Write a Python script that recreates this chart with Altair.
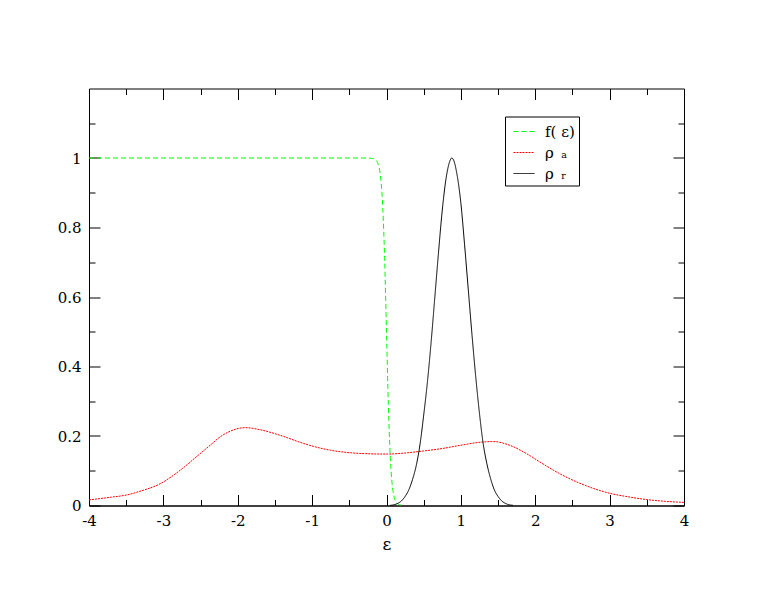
import altair as alt
import pandas as pd

# f(eps) – Fermi function (green, dashed)
f_x = [-4, -3, -2, -1, -0.5, -0.3, -0.2, -0.15, -0.1, -0.075, -0.05, -0.025, 0,
       0.025, 0.05, 0.075, 0.1, 0.125, 0.15, 0.2]
f_y = [1, 1, 1, 1, 1, 0.9999, 0.999, 0.995, 0.973, 0.936, 0.857, 0.71, 0.5,
       0.29, 0.143, 0.064, 0.027, 0.011, 0.005, 0.001]

# rho_a (red, dotted)
ra_x = [-4, -3.7, -3.5, -3.314, -3.045, -2.777, -2.508, -2.373, -2.24, -2.10, -1.90,
        -1.70, -1.43, -1.163, -1.03, -0.75, -0.5, -0.25, 0, 0.25, 0.5, 0.719, 0.988,
        1.257, 1.436, 1.66, 1.885, 2.064, 2.333, 2.60, 2.87, 3.005, 3.25, 3.5, 3.75, 4.0]
ra_y = [0.016, 0.024, 0.030, 0.041, 0.0625, 0.101, 0.149, 0.173, 0.197, 0.214, 0.224,
        0.218, 0.202, 0.182, 0.173, 0.159, 0.152, 0.149, 0.148, 0.151, 0.157, 0.163,
        0.173, 0.182, 0.184, 0.173, 0.149, 0.125, 0.091, 0.064, 0.043, 0.035, 0.025,
        0.017, 0.012, 0.009]

# rho_r (black, solid)
rr_x = [0.05, 0.1, 0.15, 0.2, 0.25, 0.3, 0.35, 0.4, 0.45, 0.5, 0.55, 0.6, 0.65, 0.7,
        0.75, 0.8, 0.85, 0.877, 0.9, 0.95, 1.0, 1.05, 1.1, 1.15, 1.2, 1.25, 1.3,
        1.35, 1.4, 1.45, 1.5, 1.55, 1.6, 1.65, 1.7]
rr_y = [0.0005, 0.002, 0.006, 0.013, 0.026, 0.045, 0.075, 0.115, 0.175, 0.26, 0.355,
        0.47, 0.60, 0.73, 0.85, 0.94, 0.99, 1.0, 0.995, 0.95, 0.87, 0.75, 0.62, 0.49,
        0.37, 0.265, 0.178, 0.12, 0.077, 0.045, 0.026, 0.013, 0.006, 0.002, 0.0006]

names = ["f( ε)", "\u2002ρ\u2002ₐ", "\u2002ρ\u2002ᵣ"]
colors = ["#00ff00", "#ff0000", "#000000"]
dashes = [[5, 3], [2, 1], [1, 0]]

x_ticks = [-4, -3.5, -3, -2.5, -2, -1.5, -1, -0.5, 0, 0.5, 1, 1.5, 2, 2.5, 3, 3.5, 4]
y_ticks = [0, 0.1, 0.2, 0.3, 0.4, 0.5, 0.6, 0.7, 0.8, 0.9, 1.0, 1.1]

rows = []
for n, xs, ys in [(names[0], f_x, f_y), (names[1], ra_x, ra_y), (names[2], rr_x, rr_y)]:
    for a, b in zip(xs, ys):
        rows.append({"e": a, "v": b, "s": n})
df = pd.DataFrame(rows)

W, H = 595, 417
FONT = "DejaVu Serif"

legend = alt.Legend(
    orient="none", legendX=416, legendY=28, title=None,
    strokeColor="black", fillColor="white", padding=4,
    symbolType="stroke", symbolSize=441, symbolStrokeWidth=1, symbolOffset=4,
    labelFont=FONT, labelFontSize=15, labelColor="black",
    rowPadding=2, labelOffset=10, cornerRadius=0,
)

x_axis = alt.Axis(
    values=x_ticks, title="ε", titleFont=FONT, titleFontSize=17,
    titleFontWeight="normal", titleColor="black", titlePadding=8,
    labelFont=FONT, labelFontSize=15, labelColor="black", labelPadding=8,
    labelExpr="datum.value % 1 == 0 ? '' + datum.value : ''",
    labelFlush=False, labelOverlap=False,
    ticks=False, tickSize=0, domainColor="black",
    grid=True, gridColor="black", gridOpacity=1, gridWidth=1,
    gridDash={"condition": {"test": "datum.value % 1 == 0", "value": [11, H - 22, 11, 5000]},
              "value": [6, H - 12, 6, 5000]},
)

y_axis = alt.Axis(
    values=y_ticks, title=None,
    labelFont=FONT, labelFontSize=15, labelColor="black", labelPadding=8,
    labelExpr="round(datum.value * 10) % 2 == 0 ? '' + datum.value : ''",
    labelFlush=False, labelOverlap=False,
    ticks=False, tickSize=0, domainColor="black",
    grid=True, gridColor="black", gridOpacity=1, gridWidth=1,
    gridDash={"condition": {"test": "round(datum.value * 10) % 2 == 0", "value": [11, W - 22, 11, 5000]},
              "value": [6, W - 12, 6, 5000]},
)

chart = alt.Chart(df).mark_line(interpolate="monotone", strokeWidth=1).encode(
    x=alt.X("e:Q", scale=alt.Scale(domain=[-4, 4], nice=False, zero=False), axis=x_axis),
    y=alt.Y("v:Q", scale=alt.Scale(domain=[0, 1.2], nice=False), axis=y_axis),
    color=alt.Color("s:N", scale=alt.Scale(domain=names, range=colors), legend=legend),
    strokeDash=alt.StrokeDash("s:N", scale=alt.Scale(domain=names, range=dashes), legend=legend),
).properties(
    width=W, height=H,
    autosize=alt.AutoSizeParams(type="none"),
    padding={"left": 81, "top": 80.5, "right": 10, "bottom": 70},
    background="white",
).configure(font=FONT).configure_view(stroke="black", strokeWidth=1)

chart.save("out.html", embed_options={"renderer": "svg", "actions": False})
